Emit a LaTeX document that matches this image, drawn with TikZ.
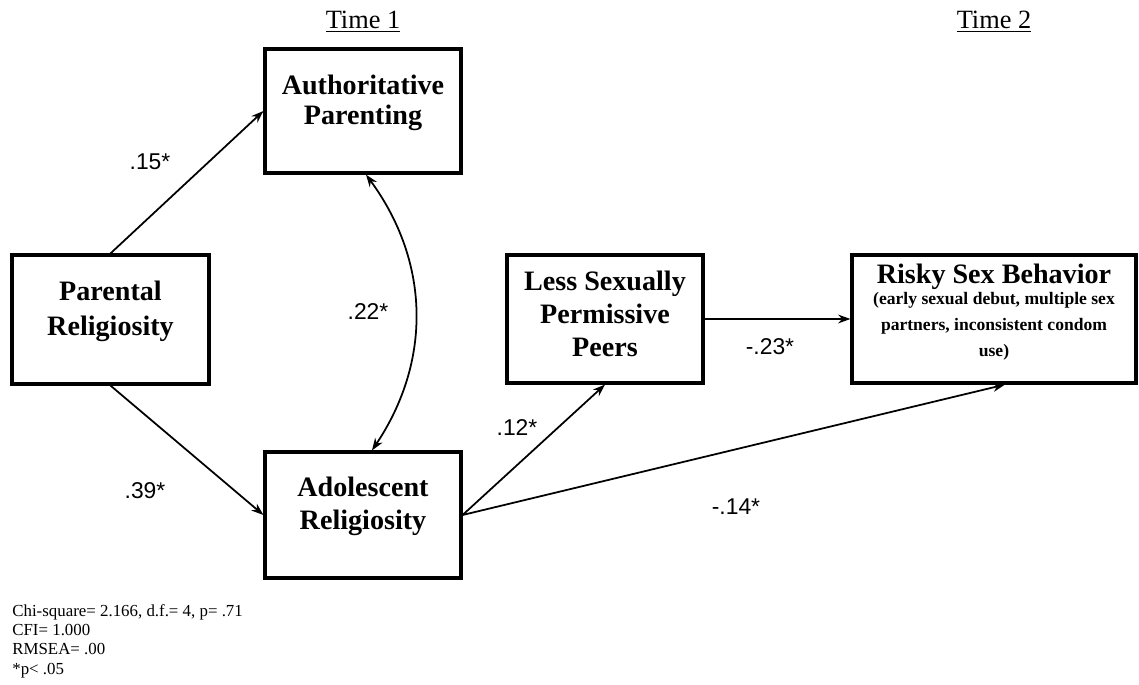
\documentclass[tikz,border=0pt]{standalone}
\usepackage{fontspec}
\setmainfont{Liberation Serif}
\newfontfamily\labelfont{Liberation Sans}
\newcommand\subfont{\fontsize{10}{14}\selectfont}
\usepackage{tikz}
\usetikzlibrary{arrows.meta}

\tikzset{
    varbox/.style={draw, line width=1.8pt, align=center, inner sep=0pt,
        font=\fontsize{16}{20}\selectfont\bfseries},
    coef/.style={font=\labelfont\fontsize{13}{15}\selectfont},
    effect/.style={line width=1pt, -{Stealth[length=7pt,width=5pt]}},
}

\begin{document}
\begin{tikzpicture}
    \useasboundingbox (0,0) rectangle (22.78,13.68);

            % time headings
            \node[font=\fontsize{15}{18}\selectfont] (time1) at (7.26,13.24) {\underline{Time 1}};
            \node[font=\fontsize{15}{18}\selectfont] (time2) at (19.88,13.24) {\underline{Time 2}};

            % draws boxes
            \node[varbox, minimum width=3.92cm, minimum height=2.48cm, text depth=13pt] (auth) at (7.26,11.46) {Authoritative\\[-3pt]Parenting};
            \node[varbox, minimum width=3.94cm, minimum height=2.58cm, text depth=13pt] (parent) at (2.21,7.29) {Parental\\Religiosity};
            \node[varbox, minimum width=3.92cm, minimum height=2.52cm, text depth=13.5pt] (adol) at (7.26,3.38) {Adolescent\\[-1pt]Religiosity};
            \node[varbox, minimum width=3.92cm, minimum height=2.56cm, text depth=6pt] (peers) at (12.10,7.30) {Less Sexually\\[-1pt]Permissive\\[-1pt]Peers};
            \node[varbox, minimum width=5.68cm, minimum height=2.56cm, text depth=10pt] (risky) at (19.88,7.30)
                {Risky Sex Behavior\\[-8pt]{\subfont (early sexual debut, multiple sex}\\[-5pt]{\subfont partners, inconsistent condom}\\[-5pt]{\subfont use)}};

            % draws paths
            \draw[effect] (parent.north) -- (auth.west);
            \draw[effect] (parent.south) -- (adol.west);
            \draw[line width=1pt, {Stealth[length=7pt,width=5pt]}-{Stealth[length=7pt,width=5pt]}]
                ([xshift=0.06cm]auth.south) to[bend left=35] ([xshift=0.18cm]adol.north);
            \draw[effect] (adol.east) -- (peers.south);
            \draw[effect] (peers.east) -- (risky.west);
            \draw[effect] (adol.east) -- ([xshift=0.22cm]risky.south);

            % labels paths
            \node[coef] (c15) at (3.00,10.44) {.15*};
            \node[coef] (c39) at (2.90,3.86) {.39*};
            \node[coef] (c22) at (7.36,7.44) {.22*};
            \node[coef] (c12) at (10.34,5.12) {.12*};
            \node[coef] (c23) at (15.40,6.74) {-.23*};
            \node[coef] (c14) at (14.72,3.54) {-.14*};

            % fit statistics
            \node[anchor=west, align=left, inner sep=0pt, font=\fontsize{9.6}{11}\selectfont] (fit) at (0.24,0.86)
                {Chi-square= 2.166, d.f.= 4, p= .71\\CFI= 1.000\\RMSEA= .00\\*p< .05};
\end{tikzpicture}
\end{document}
